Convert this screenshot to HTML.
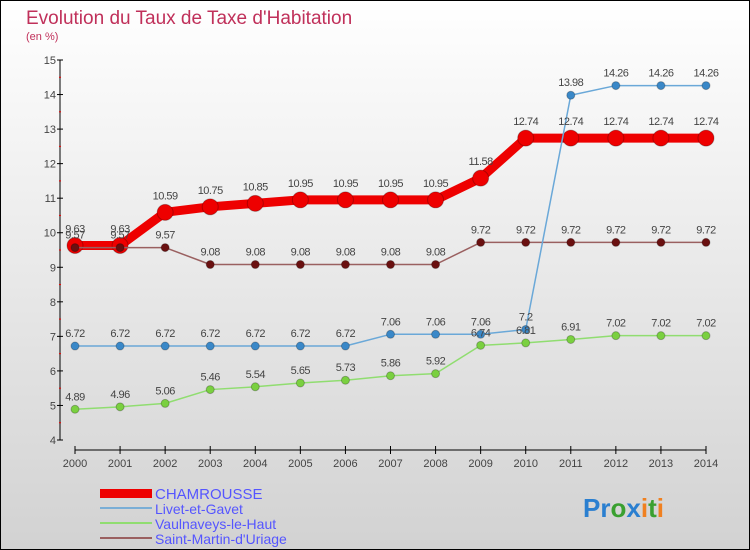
<!DOCTYPE html>
<html><head><meta charset="utf-8"><style>
body{margin:0;}
#c{width:750px;height:550px;position:relative;overflow:hidden;}
svg text{font-family:"Liberation Sans",sans-serif;}
</style></head><body>
<div id="c">
<svg id="s" width="750" height="550" xmlns="http://www.w3.org/2000/svg">
<defs><linearGradient id="bg" x1="0" y1="0" x2="0" y2="1"><stop offset="0" stop-color="#ffffff"/><stop offset="1" stop-color="#d2d2d2"/></linearGradient></defs>
<rect x="0.5" y="0.5" width="749" height="549" fill="url(#bg)" stroke="#000"/>
<text x="26" y="24" font-size="19" fill="#c0305a">Evolution du Taux de Taxe d'Habitation</text>
<text x="26" y="40" font-size="11" fill="#c0305a">(en %)</text>
<g id="axes"></g><g id="series"></g><g id="labels"></g>
<g>
<rect x="100" y="489" width="52" height="9" fill="#e00"/>
<text x="155" y="499" font-size="15" fill="#5555ff">CHAMROUSSE</text>
<rect x="100" y="507" width="52" height="2" fill="#7aaed6"/>
<text x="155" y="514" font-size="14" fill="#5555ff">Livet-et-Gavet</text>
<rect x="100" y="522" width="52" height="2" fill="#90dd70"/>
<text x="155" y="529" font-size="14" fill="#5555ff">Vaulnaveys-le-Haut</text>
<rect x="100" y="537" width="52" height="2" fill="#9a6060"/>
<text x="155" y="544" font-size="14" fill="#5555ff">Saint-Martin-d'Uriage</text>
</g>
<g font-size="26" font-weight="bold">
<text x="583" y="517"><tspan fill="#2a7fd0">Pr</tspan><tspan fill="#3aa030">o</tspan><tspan fill="#2a7fd0">x</tspan><tspan fill="#f08020">i</tspan><tspan fill="#3aa030">t</tspan><tspan fill="#f08020">i</tspan></text>
</g>
</svg></div>
<script>
const years=[2000,2001,2002,2003,2004,2005,2006,2007,2008,2009,2010,2011,2012,2013,2014];
const chamrousse=[9.63,9.63,10.59,10.75,10.85,10.95,10.95,10.95,10.95,11.58,12.74,12.74,12.74,12.74,12.74];
const livet=[6.72,6.72,6.72,6.72,6.72,6.72,6.72,7.06,7.06,7.06,7.2,13.98,14.26,14.26,14.26];
const vaulnaveys=[4.89,4.96,5.06,5.46,5.54,5.65,5.73,5.86,5.92,6.74,6.81,6.91,7.02,7.02,7.02];
const saintMartin=[9.57,9.57,9.57,9.08,9.08,9.08,9.08,9.08,9.08,9.72,9.72,9.72,9.72,9.72,9.72];
const yTicks=[4,5,6,7,8,9,10,11,12,13,14,15];
const NS='http://www.w3.org/2000/svg';
function X(i){return 75+i*(706-75)/(years.length-1);}
function Y(v){return 440-(v-4)*(380/11);}
function mk(t,a,p){const e=document.createElementNS(NS,t);for(const k in a)e.setAttribute(k,a[k]);p.appendChild(e);return e;}
const ax=document.getElementById('axes'),sg=document.getElementById('series'),lg=document.getElementById('labels');
let yl=mk('line',{x1:60,y1:Y(15),x2:60,y2:Y(4),stroke:'#000'},ax);


yTicks.forEach(v=>{
 mk('line',{x1:57,y1:Y(v),x2:63,y2:Y(v),stroke:'#000'},ax);
 if(v<15)mk('line',{x1:59,y1:Y(v+0.5),x2:61,y2:Y(v+0.5),stroke:'#e00'},ax);
 const t=mk('text',{x:56,y:Y(v)+4,'font-size':11,fill:'#444','text-anchor':'end'},ax);t.textContent=v;
 
 
});
let xl=mk('line',{x1:75,y1:450,x2:706,y2:450,stroke:'#000'},ax);


years.forEach((y,i)=>{
 mk('line',{x1:X(i),y1:446,x2:X(i),y2:454,stroke:'#000'},ax);
 const t=mk('text',{x:X(i),y:467,'font-size':11,fill:'#444','text-anchor':'middle'},ax);t.textContent=y;
 
 
});
function series(vals,name,col,w,r,dot){
 const g=mk('g',{},sg);
 
 
 mk('polyline',{points:vals.map((v,i)=>X(i)+','+Y(v)).join(' '),fill:'none',stroke:col,'stroke-width':w,'stroke-linejoin':'round'},g);
 vals.forEach((v,i)=>{
  const c=mk('circle',{cx:X(i),cy:Y(v),r:r,fill:dot,stroke:'rgba(0,0,0,0.25)'},g);
  
  
  const t=mk('text',{x:X(i),y:Y(v)-(r+5),'font-size':11,fill:'#444','text-anchor':'middle','letter-spacing':'-0.5'},lg);
  t.textContent=v;
  
  
 });
}
series(chamrousse,'chamrousse','#e00',9,8,'#e00');
series(saintMartin,'saint-martin','#9a6060',1.5,4,'#6a1010');
series(vaulnaveys,'vaulnaveys','#90dd70',1.5,4,'#7ad040');
series(livet,'livet','#6aa8d8',1.5,4,'#3a88c8');
</script>
</body></html>
